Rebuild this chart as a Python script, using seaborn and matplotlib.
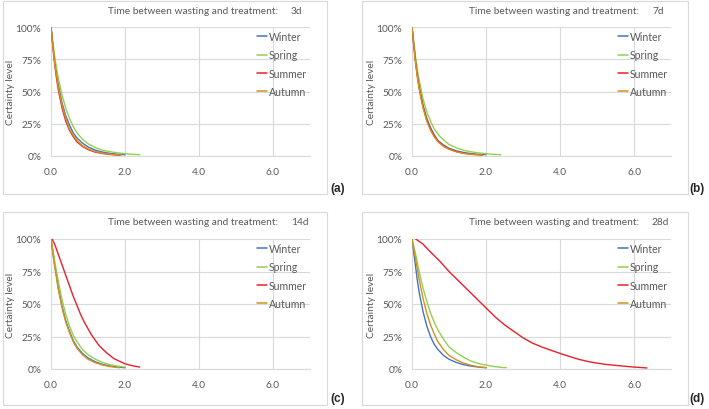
import numpy as np
import pandas as pd
import matplotlib
matplotlib.use("Agg")
import matplotlib.pyplot as plt
from matplotlib.patches import Rectangle
from matplotlib.lines import Line2D
import seaborn as sns

# ---------------- data ----------------
seasons = ["Winter", "Spring", "Summer", "Autumn"]
colores = {"Winter": "#4472C4", "Spring": "#92D050",
           "Summer": "#E8202A", "Autumn": "#D4901C"}
dias = ["3d", "7d", "14d", "28d"]
paneles = ["(a)", "(b)", "(c)", "(d)"]

# (a) 3d
a_x_winter = [0, 0.05, 0.1, 0.15, 0.2, 0.3, 0.4, 0.5, 0.6, 0.7, 0.85, 1.0, 1.2, 1.4, 1.6, 1.8, 2.0]
a_y_winter = [100, 86, 74, 64, 55, 41, 31, 24, 18, 14, 10, 7, 4.5, 3.0, 2.0, 1.4, 1.0]
a_x_spring = [0, 0.05, 0.1, 0.15, 0.2, 0.3, 0.4, 0.5, 0.6, 0.7, 0.85, 1.0, 1.2, 1.4, 1.6, 1.8, 2.0, 2.2, 2.4]
a_y_spring = [100, 88, 77, 68, 60, 47, 37, 29, 23, 18, 13, 9.5, 6.5, 4.5, 3.3, 2.4, 1.8, 1.3, 1.0]
a_x_summer = [0, 0.05, 0.1, 0.15, 0.2, 0.3, 0.4, 0.5, 0.6, 0.7, 0.85, 1.0, 1.2, 1.4, 1.6, 1.85]
a_y_summer = [100, 85, 71, 60, 51, 37, 27, 20, 15, 11, 7.5, 5.0, 3.0, 1.9, 1.2, 0.6]
a_x_autumn = [0, 0.05, 0.1, 0.15, 0.2, 0.3, 0.4, 0.5, 0.6, 0.7, 0.85, 1.0, 1.2, 1.4, 1.6, 1.9]
a_y_autumn = [100, 85, 72, 62, 53, 39, 29, 21, 16, 12, 8.0, 5.5, 3.4, 2.1, 1.4, 0.7]

# (b) 7d
b_x_winter = [0, 0.05, 0.1, 0.15, 0.2, 0.3, 0.4, 0.5, 0.6, 0.7, 0.85, 1.0, 1.2, 1.4, 1.6, 1.8, 2.0]
b_y_winter = [100, 86, 73, 62, 53, 39, 29, 22, 16.5, 12, 8.5, 6.0, 4.0, 2.7, 1.8, 1.3, 1.0]
b_x_spring = [0, 0.05, 0.1, 0.15, 0.2, 0.3, 0.4, 0.5, 0.6, 0.7, 0.85, 1.0, 1.2, 1.4, 1.6, 1.8, 2.0, 2.2, 2.4]
b_y_spring = [100, 88, 76, 66, 58, 44, 34, 27, 21, 17, 12.5, 9.0, 6.3, 4.4, 3.2, 2.4, 1.8, 1.3, 1.0]
b_x_summer = [0, 0.05, 0.1, 0.15, 0.2, 0.3, 0.4, 0.5, 0.6, 0.7, 0.85, 1.0, 1.2, 1.4, 1.6, 1.9]
b_y_summer = [100, 85, 72, 61, 52, 38, 28, 21, 15.5, 11.5, 8.0, 5.5, 3.4, 2.1, 1.4, 0.7]
b_x_autumn = [0, 0.05, 0.1, 0.15, 0.2, 0.3, 0.4, 0.5, 0.6, 0.7, 0.85, 1.0, 1.2, 1.4, 1.6, 1.9]
b_y_autumn = [100, 85, 71, 60, 51, 37, 27, 20, 15, 11, 7.5, 5.2, 3.2, 2.0, 1.3, 0.7]

# (c) 14d
c_x_winter = [0, 0.05, 0.1, 0.15, 0.2, 0.3, 0.4, 0.5, 0.6, 0.7, 0.85, 1.0, 1.2, 1.4, 1.6, 1.8, 2.0]
c_y_winter = [100, 90, 80, 71, 62, 48, 37, 29, 22, 17, 12, 8.5, 5.5, 3.5, 2.3, 1.5, 1.0]
c_x_spring = [0, 0.05, 0.1, 0.15, 0.2, 0.3, 0.4, 0.5, 0.6, 0.7, 0.85, 1.0, 1.2, 1.4, 1.6, 1.8, 2.0]
c_y_spring = [100, 92, 83, 75, 67, 53, 42, 33, 26, 21, 15, 11, 7.5, 5.0, 3.3, 2.2, 1.5]
c_x_summer = [0.03, 0.1, 0.2, 0.3, 0.4, 0.5, 0.6, 0.7, 0.8, 0.9, 1.0, 1.1, 1.3, 1.5, 1.7, 2.0, 2.2, 2.4]
c_y_summer = [100, 96, 88, 80, 72, 64, 56, 49, 42, 36, 31, 26, 18, 12.5, 8.0, 4.0, 2.5, 1.5]
c_x_autumn = [0, 0.05, 0.1, 0.15, 0.2, 0.3, 0.4, 0.5, 0.6, 0.7, 0.85, 1.0, 1.2, 1.4, 1.6, 1.85]
c_y_autumn = [100, 89, 79, 70, 61, 47, 36, 28, 21, 16, 11, 7.5, 4.8, 3.0, 1.8, 1.0]

# (d) 28d
d_x_winter = [0, 0.05, 0.1, 0.15, 0.2, 0.3, 0.4, 0.5, 0.6, 0.7, 0.85, 1.0, 1.2, 1.4, 1.6, 1.8, 2.0]
d_y_winter = [100, 89, 78, 67, 58, 44, 33, 25, 19, 15, 10.5, 7.5, 5.0, 3.3, 2.2, 1.5, 1.0]
d_x_spring = [0, 0.05, 0.1, 0.15, 0.2, 0.3, 0.4, 0.5, 0.6, 0.7, 0.85, 1.0, 1.2, 1.4, 1.6, 1.8, 2.0, 2.2, 2.4, 2.55]
d_y_spring = [100, 94, 88, 81, 74, 62, 52, 43, 36, 30, 23, 17, 12.5, 9.0, 6.0, 4.2, 3.0, 2.0, 1.3, 1.0]
d_x_summer = [0.1, 0.3, 0.5, 0.75, 1.0, 1.25, 1.5, 1.75, 2.0, 2.25, 2.5, 2.75, 3.0, 3.25, 3.5, 3.75,
              4.0, 4.25, 4.5, 4.75, 5.0, 5.25, 5.5, 5.75, 6.0, 6.35]
d_y_summer = [100, 96, 90, 83, 75, 68, 61, 54, 47, 40, 34, 29, 24, 20, 17, 14.5,
              12, 9.7, 7.5, 5.8, 4.5, 3.5, 2.8, 2.1, 1.5, 0.8]
d_x_autumn = [0, 0.05, 0.1, 0.15, 0.2, 0.3, 0.4, 0.5, 0.6, 0.7, 0.85, 1.0, 1.2, 1.4, 1.6, 1.8, 2.0]
d_y_autumn = [100, 92, 84, 76, 68, 54, 43, 34, 27, 21, 15, 10.5, 7.0, 4.5, 2.8, 1.7, 1.0]

datos = [
    [(a_x_winter, a_y_winter), (a_x_spring, a_y_spring), (a_x_summer, a_y_summer), (a_x_autumn, a_y_autumn)],
    [(b_x_winter, b_y_winter), (b_x_spring, b_y_spring), (b_x_summer, b_y_summer), (b_x_autumn, b_y_autumn)],
    [(c_x_winter, c_y_winter), (c_x_spring, c_y_spring), (c_x_summer, c_y_summer), (c_x_autumn, c_y_autumn)],
    [(d_x_winter, d_y_winter), (d_x_spring, d_y_spring), (d_x_summer, d_y_summer), (d_x_autumn, d_y_autumn)],
]

# ---------------- layout (pixels) ----------------
W, H = 709, 410
# axes boxes: left, top, right, bottom
cajas = [(51, 28, 310, 157), (412, 28, 671, 157),
         (51, 240, 310, 370), (412, 240, 671, 370)]
marcos = [(3, 2, 327, 195), (362, 2, 688, 195),
          (3, 213, 327, 406), (362, 213, 688, 406)]
letras = [(330, 189), (689, 189), (330, 399), (689, 399)]

sns.set_style("white")
plt.rcParams['font.family'] = ['Lato', 'DejaVu Sans']

fig = plt.figure(figsize=(W / 100, H / 100), dpi=100)
gris = "#595959"

for i in range(4):
    # marco del panel
    l, t, r, b = marcos[i]
    fig.patches.append(Rectangle((l / W, 1 - b / H), (r - l) / W, (b - t) / H,
                                 transform=fig.transFigure, fill=False,
                                 edgecolor="#d9d9d9", lw=0.8))
    l, t, r, b = cajas[i]
    ax = fig.add_axes([l / W, 1 - b / H, (r - l) / W, (b - t) / H])

    filas = []
    for s, (xs, ys) in zip(seasons, datos[i]):
        for xv, yv in zip(xs, ys):
            filas.append({"x": xv, "y": yv / 100.0, "season": s})
    df = pd.DataFrame(filas)
    sns.lineplot(data=df, x="x", y="y", hue="season", hue_order=seasons,
                 palette=colores, lw=1.0, ax=ax, sort=False, estimator=None,
                 legend=False)

    ax.set_xlim(0, 7)
    ax.set_ylim(0, 1)
    ax.set_xticks([0, 2, 4, 6])
    ax.set_xticklabels(["0.0", "2.0", "4.0", "6.0"])
    ax.set_yticks([0, 0.25, 0.5, 0.75, 1.0])
    ax.set_yticklabels(["0%", "25%", "50%", "75%", "100%"])
    ax.grid(True, color="#d9d9d9", lw=0.8)
    ax.set_axisbelow(True)
    for sp in ["top", "right", "left"]:
        ax.spines[sp].set_visible(False)
    ax.spines["bottom"].set_color("#d9d9d9")
    ax.spines["bottom"].set_linewidth(0.8)
    ax.tick_params(axis="both", length=0, labelsize=7.3, colors=gris)
    ax.tick_params(axis="x", pad=8)
    ax.tick_params(axis="y", pad=7)
    ax.set_xlabel("")
    ax.set_ylabel("Certainty level", fontsize=7.3, color=gris, labelpad=0.5)

    handles = [Line2D([], [], color=colores[s], lw=1.1) for s in seasons]
    leg = ax.legend(handles, seasons, loc="upper left", bbox_to_anchor=(0.795, 0.97),
                    frameon=False, fontsize=7.6, handlelength=1.0, handletextpad=0.15,
                    labelspacing=0.7, borderpad=0, borderaxespad=0)
    for txt in leg.get_texts():
        txt.set_color(gris)

    # titulo
    fig.text((r - 32) / W, 1 - (t - 17) / H, "Time between wasting and treatment:",
             ha="right", va="center", fontsize=7.3, color=gris)
    fig.text((r - 19) / W, 1 - (t - 17) / H, dias[i],
             ha="left", va="center", fontsize=7.3, color=gris)

    lx, ly = letras[i]
    fig.text(lx / W, 1 - ly / H, paneles[i], ha="left", va="center",
             fontsize=8.5, fontweight="bold", family=["Liberation Sans", "DejaVu Sans"])

fig.savefig("out.png", dpi=100)
